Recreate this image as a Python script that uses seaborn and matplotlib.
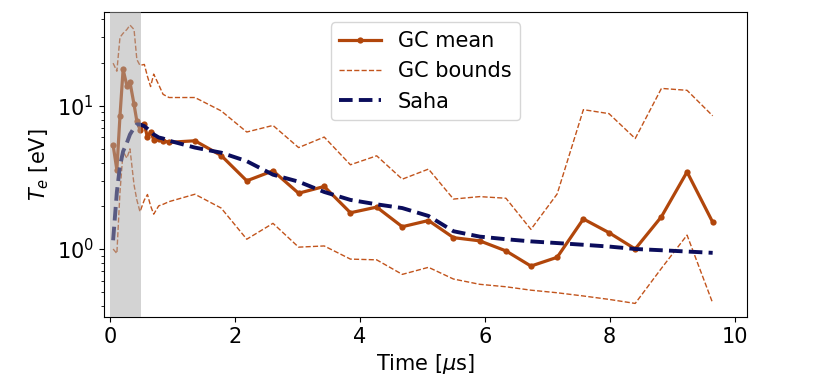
import pandas as pd
import seaborn as sns
import matplotlib.pyplot as plt

# time axis [us]
time = [0.05, 0.11, 0.16, 0.21, 0.27, 0.32, 0.385, 0.43, 0.48, 0.55, 0.6, 0.65, 0.7, 0.78, 0.85,
        0.945, 1.36, 1.78, 2.19, 2.61, 3.02, 3.43, 3.85, 4.27, 4.68, 5.10, 5.50, 5.92, 6.34,
        6.74, 7.16, 7.58, 7.99, 8.41, 8.83, 9.24, 9.65]

# GC mean electron temperature [eV]
gc_mean = [5.3, 3.57, 8.5, 17.9, 13.8, 14.6, 10.2, 7.8, 6.8, 7.4, 6.0, 6.6, 5.8, 5.9, 5.7,
           5.55, 5.69, 4.49, 2.99, 3.51, 2.45, 2.73, 1.79, 1.96, 1.43, 1.58, 1.2, 1.14, 0.97,
           0.76, 0.875, 1.62, 1.30, 1.0, 1.68, 3.45, 1.54]

gc_upper = [19.8, 17.4, 30.0, 32.0, 34.0, 36.5, 34.0, 21.0, 19.1, 19.4, 16.0, 13.6, 16.6, 14.0, 12.0,
            11.4, 11.4, 9.2, 6.55, 7.28, 5.1, 6.04, 3.87, 4.47, 3.07, 3.61, 2.23, 2.32, 2.26,
            1.37, 2.42, 9.38, 8.8, 5.9, 13.2, 12.8, 8.5]

gc_lower = [1.0, 0.93, 2.5, 4.8, 4.3, 5.0, 2.8, 2.2, 1.82, 2.2, 2.4, 2.0, 1.75, 2.0, 2.05,
            2.14, 2.41, 1.93, 1.17, 1.51, 1.03, 1.05, 0.85, 0.84, 0.665, 0.745, 0.617, 0.567, 0.545,
            0.516, 0.495, 0.47, 0.445, 0.417, 0.733, 1.25, 0.42]

saha = [1.15, 2.5, 3.8, 4.8, 5.5, 6.3, 7.0, 7.4, 7.4, 7.2, 6.9, 6.6, 6.3, 6.0, 5.9,
        5.7, 5.1, 4.7, 4.1, 3.3, 2.95, 2.5, 2.2, 2.05, 1.93, 1.7, 1.33, 1.22, 1.17,
        1.13, 1.1, 1.07, 1.04, 1.0, 0.98, 0.96, 0.94]

df = pd.DataFrame({'time': time, 'mean': gc_mean, 'upper': gc_upper,
                   'lower': gc_lower, 'saha': saha})

c_mean = '#b1460b'
c_bounds = '#c2541c'
c_saha = '#0b0d5c'

fig, ax = plt.subplots(figsize=(8.3, 3.77), dpi=100)
fig.subplots_adjust(left=0.125, right=0.9, bottom=0.159, top=0.968)

sns.lineplot(data=df, x='time', y='mean', ax=ax, color=c_mean, lw=2.3,
             marker='o', markersize=4.5, markeredgewidth=0, label='GC mean')
sns.lineplot(data=df, x='time', y='upper', ax=ax, color=c_bounds, lw=1.0,
             linestyle='--', label='GC bounds')
sns.lineplot(data=df, x='time', y='lower', ax=ax, color=c_bounds, lw=1.0,
             linestyle='--')
sns.lineplot(data=df, x='time', y='saha', ax=ax, color=c_saha, lw=2.8,
             dashes=(3.5, 1.6), label='Saha')

# early-time region shaded over the lines
ax.axvspan(0, 0.5, color='#a9a9a9', alpha=0.5, lw=0, zorder=3)

ax.set_yscale('log')
ax.set_xlim(-0.1, 10.2)
ax.set_ylim(0.335, 45)
ax.set_xticks([0, 2, 4, 6, 8, 10])
ax.tick_params(labelsize=15)
ax.set_xlabel(r'Time [$\mu$s]', fontsize=15)
ax.set_ylabel(r'$T_e$ [eV]', fontsize=15)

leg = ax.legend(loc='upper center', fontsize=15, framealpha=0.8)
leg.set_zorder(5)

plt.savefig('out.png', dpi=100)
